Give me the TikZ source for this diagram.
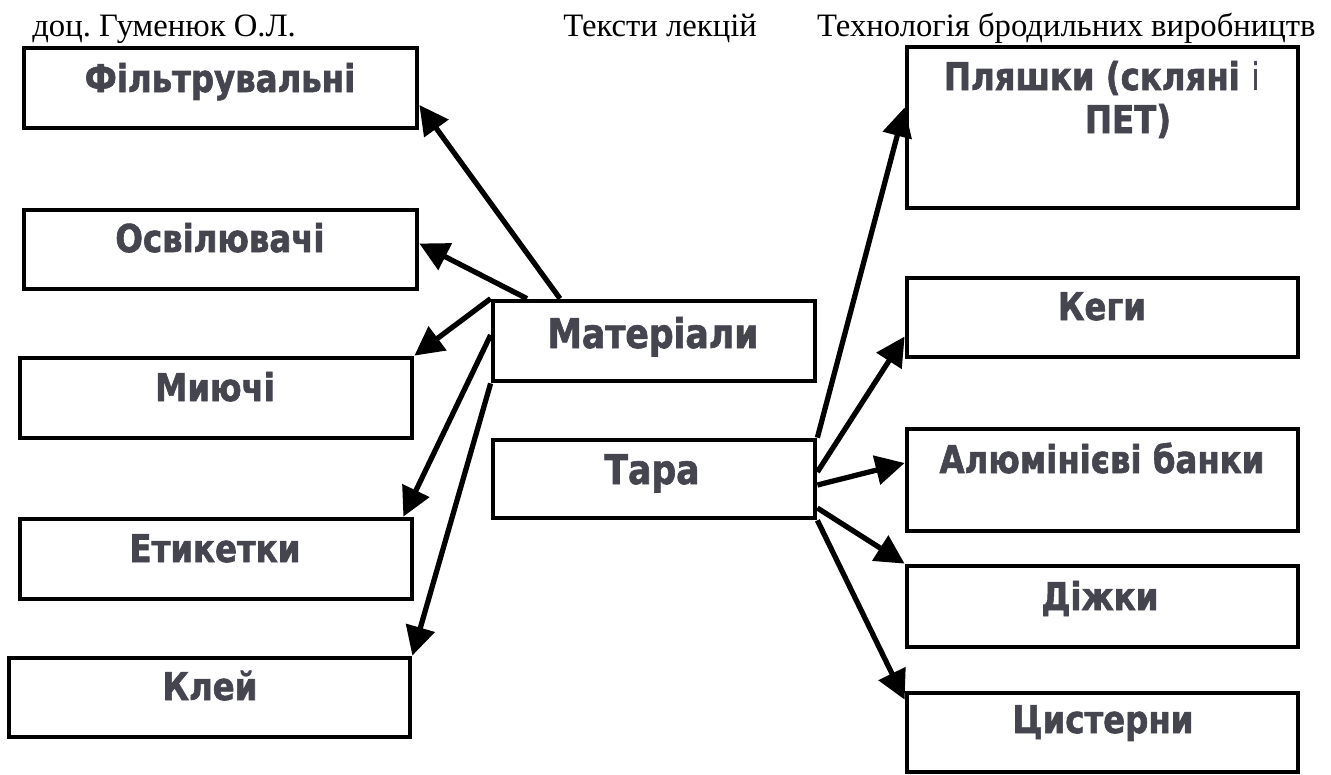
\documentclass[tikz,border=0pt]{standalone}
\usepackage{fontspec}
\setmainfont{Liberation Serif}
\newfontfamily\boxfont[FakeStretch=0.94, BoldFeatures={FakeBold=1.6}]{DejaVu Sans Condensed}
\usetikzlibrary{arrows.meta,fit}
\definecolor{labelgray}{RGB}{69,69,80}
\frenchspacing
\begin{document}
\begin{tikzpicture}[x=0.02cm,y=-0.02cm,
  box/.style={draw=black, line width=2.7pt, inner sep=0pt, rectangle},
  lbl/.style={text=labelgray, font=\boxfont\bfseries\fontsize{21.8}{26}\selectfont, anchor=base, inner sep=0pt},
  biglbl/.style={lbl, font=\boxfont\bfseries\fontsize{23.3}{28}\selectfont},
  head/.style={font=\fontsize{18.6}{22}\selectfont, inner sep=0pt},
  link/.style={line width=3pt, -{Triangle[length=0.58cm,width=0.58cm]}}
]
\useasboundingbox (0,0) rectangle (1331,774);

% page header
\node[head, anchor=base west] (author) at (32,36) {доц. Гуменюк О.Л.};
\node[head, anchor=base west] (kind) at (563,36) {Тексти лекцій};
\node[head, anchor=base east] (course) at (1316,36) {Технологія бродильних виробництв};

% left column
\node[box, fit={(24,48) (417,128)}] (filt) {};
\node[box, fit={(24,210) (417,289)}] (osv) {};
\node[box, fit={(20,358) (412,438)}] (myu) {};
\node[box, fit={(20,519) (412,599)}] (etyk) {};
\node[box, fit={(9,658) (410,737)}] (klei) {};

\node[lbl] (filtT) at (220,92) {Фільтрувальні};
\node[lbl] (osvT) at (220,252) {Освілювачі};
\node[lbl] (myuT) at (215,401) {Миючі};
\node[lbl] (etykT) at (215,562) {Етикетки};
\node[lbl] (kleiT) at (210,700) {Клей};

% centre column
\node[box, fit={(493,301) (815,381)}] (mat) {};
\node[box, fit={(493,440) (815,518)}] (tara) {};
\node[biglbl] (matT) at (653,348) {Матеріали};
\node[biglbl] (taraT) at (652,484) {Тара};

% right column
\node[box, fit={(907,47) (1298,208)}] (plya) {};
\node[box, fit={(907,278) (1298,357)}] (keg) {};
\node[box, fit={(907,429) (1298,531)}] (alum) {};
\node[box, fit={(907,566) (1298,647)}] (dizh) {};
\node[box, fit={(907,693) (1298,772)}] (cyst) {};

\node[lbl] (plyaT1) at (1102,90) {Пляшки (скляні {\mdseries і}};
\node[lbl] (plyaT2) at (1128,133) {ПЕТ)};
\node[lbl] (kegT) at (1102,320) {Кеги};
\node[lbl] (alumT) at (1102,473) {Алюмінієві банки};
\node[lbl] (dizhT) at (1100,610) {Діжки};
\node[lbl] (cystT) at (1103,733) {Цистерни};

% connectors from "Матеріали"
\draw[link] ([shift={(-94,0)}]mat.north) -- ([shift={(0,17)}]filt.east);
\draw[link] ([shift={(-127,0)}]mat.north) -- ([shift={(0,-6)}]osv.east);
\draw[link] (mat.north west) -- (myu.north east);
\draw[link] ([shift={(0,-6)}]mat.west) -- ([shift={(-11,0)}]etyk.north east);
\draw[link] (mat.south west) -- (klei.north east);

% connectors from "Тара"
\draw[link] (tara.north east) -- ([shift={(0,-20)}]plya.west);
\draw[link] ([shift={(0,-7)}]tara.east) -- ([shift={(0,19)}]keg.west);
\draw[link] ([shift={(0,6)}]tara.east) -- ([shift={(0,-17)}]alum.west);
\draw[link] ([shift={(0,29)}]tara.east) -- (dizh.north west);
\draw[link] (tara.south east) -- ([shift={(0,9)}]cyst.north west);
\end{tikzpicture}
\end{document}
